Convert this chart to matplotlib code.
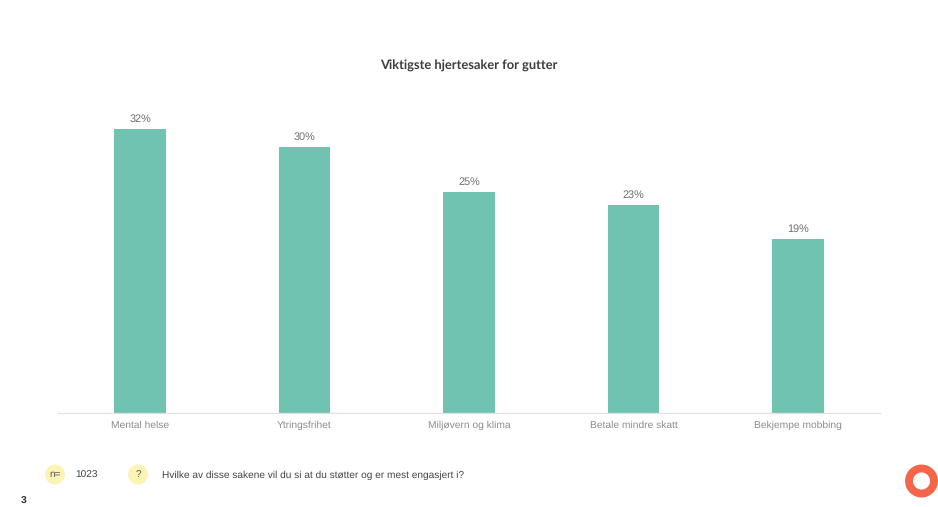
import matplotlib
matplotlib.use("Agg")
import matplotlib.pyplot as plt
from matplotlib.patches import Circle

categories = ["Mental helse", "Ytringsfrihet", "Miljøvern og klima", "Betale mindre skatt", "Bekjempe mobbing"]
shares = [31.6, 29.6, 24.6, 23.1, 19.4]
share_labels = ["32%", "30%", "25%", "23%", "19%"]
title = "Viktigste hjertesaker for gutter"
sample_size = "1023"
question = "Hvilke av disse sakene vil du si at du støtter og er mest engasjert i?"
page_number = "3"

W, H = 938, 507
plt.rcParams["font.family"] = ["Liberation Sans", "DejaVu Sans"]
plt.rcParams["text.hinting"] = "no_hinting"

fig = plt.figure(figsize=(W / 100, H / 100), dpi=100, facecolor="white")

# chart area, in pixels from the reference
left, right, top, bottom = 58, 880, 100, 413
ax = fig.add_axes([left / W, 1 - bottom / H, (right - left) / W, (bottom - top) / H])
ax.bar(range(len(shares)), shares, width=0.315, color="#70C3B1")
ax.set_xlim(-0.5, len(shares) - 0.5)
ax.set_ylim(0, (bottom - top) / 8.99)
for i, (v, lab) in enumerate(zip(shares, share_labels)):
    ax.annotate(lab, (i, v), xytext=(0, 3.4), textcoords="offset points", ha="center", va="bottom",
                fontsize=7.8, color="#6E6E6E")
ax.set_xticks(range(len(categories)), categories, fontsize=7.4, color="#8C8C8C")
ax.tick_params(axis="x", length=0, pad=5.5)
ax.yaxis.set_visible(False)
for side in ["top", "left", "right"]:
    ax.spines[side].set_visible(False)
ax.spines["bottom"].set_color("#E2E2E2")
ax.spines["bottom"].set_linewidth(0.9)

# overlay in pixel coordinates for the slide furniture
page = fig.add_axes([0, 0, 1, 1], facecolor="none")
page.set_xlim(0, W)
page.set_ylim(H, 0)
page.axis("off")
page.text(469, 66, title, ha="center", va="center", fontsize=9.3, fontweight="bold",
          color="#3C3C3C", family=["Lato", "DejaVu Sans"])
for cx, txt in [(55, "n="), (138, "?")]:
    page.add_patch(Circle((cx, 474.5), 10, color="#FBF4B4", lw=0))
    page.text(cx, 474.5, txt, ha="center", va="center", fontsize=7.2, color="#555555")
page.text(75, 475, sample_size, va="center", fontsize=7.3, color="#444444")
page.text(162, 475, question, va="center", fontsize=7.25, color="#444444")
page.text(21, 501, page_number, va="center", fontsize=7.5, fontweight="bold", color="#333333")
page.add_patch(Circle((921.5, 481), 12.5, facecolor="none", edgecolor="#F4654A", linewidth=5.7))

fig.savefig("out.png", dpi=100)
